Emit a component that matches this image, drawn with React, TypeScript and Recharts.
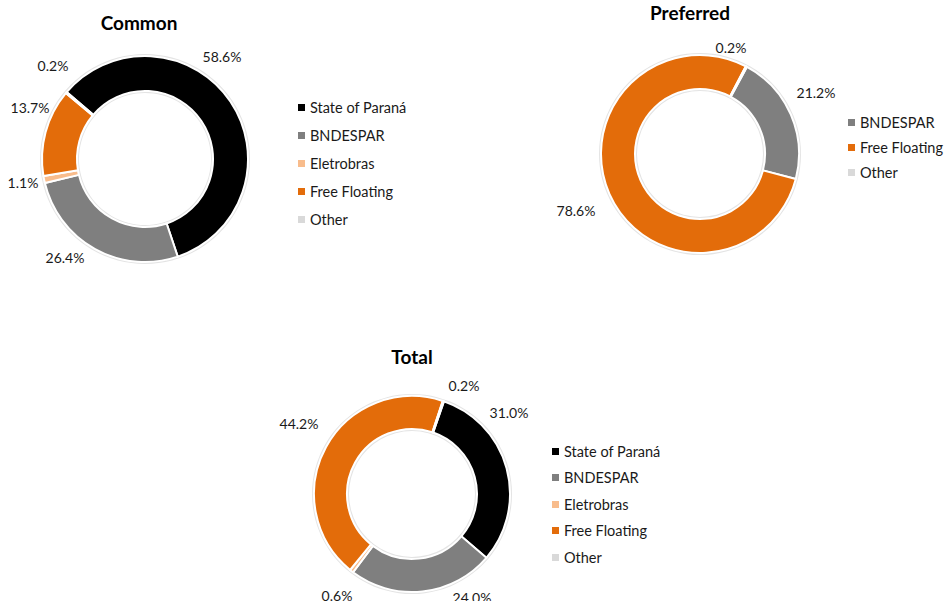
import React from 'react';
import { PieChart, Pie, Cell, Legend } from 'recharts';

const COMMON_CATEGORIES = ['State of Paraná', 'BNDESPAR', 'Eletrobras', 'Free Floating', 'Other'];
const COMMON_VALUES = [58.6, 26.4, 1.1, 13.7, 0.2];

const PREFERRED_CATEGORIES = ['BNDESPAR', 'Free Floating', 'Other'];
const PREFERRED_VALUES = [21.2, 78.6, 0.2];

const TOTAL_CATEGORIES = ['State of Paraná', 'BNDESPAR', 'Eletrobras', 'Free Floating', 'Other'];
const TOTAL_VALUES = [31.0, 24.0, 0.6, 44.2, 0.2];

const CHART_TITLES = ['Common', 'Preferred', 'Total'];

const COLORS: Record<string, string> = {
  'State of Paraná': '#000000',
  BNDESPAR: '#7f7f7f',
  Eletrobras: '#f8bc8c',
  'Free Floating': '#e36c0a',
  Other: '#d9d9d9',
};

const FONT = 'Lato, "Liberation Sans", sans-serif';
const TEXT_COLOR = '#1a1a1a';

type Layout = {
  box: { left: number; top: number; width: number; height: number };
  cx: number;
  cy: number;
  inner: number;
  outer: number;
  startAngle: number;
  labelOffsets: [number, number][];
  legend: { left: number; top: number; gap: number };
  title: { x: number; y: number };
};

const LAYOUTS: Layout[] = [
  {
    box: { left: 0, top: 0, width: 470, height: 300 },
    cx: 145,
    cy: 159,
    inner: 68,
    outer: 103,
    startAngle: 139.5,
    labelOffsets: [[77, -103], [-80, 98], [-122, 23], [-115, -52], [-92, -94]],
    legend: { left: 298, top: 93, gap: 28 },
    title: { x: 139, y: 23 },
  },
  {
    box: { left: 520, top: 0, width: 428, height: 290 },
    cx: 180,
    cy: 154,
    inner: 65,
    outer: 99,
    startAngle: 61.7,
    labelOffsets: [[116, -62], [-124, 56], [31, -107]],
    legend: { left: 328, top: 110, gap: 25 },
    title: { x: 690, y: 13 },
  },
  {
    box: { left: 250, top: 330, width: 450, height: 271 },
    cx: 162,
    cy: 164,
    inner: 65,
    outer: 98,
    startAngle: 71,
    labelOffsets: [[97, -82], [60, 103], [-75, 101], [-113, -71], [52, -109]],
    legend: { left: 302, top: 108, gap: 26.5 },
    title: { x: 412, y: 357 },
  },
];

const makeLegend = (gap: number, categories: string[]) => (props: any) => {
  const payload = (props.payload || [])
    .filter((e: any) => categories.indexOf(e.value) >= 0)
    .sort((a: any, b: any) => categories.indexOf(a.value) - categories.indexOf(b.value));
  return (
    <div>
      {payload.map((e: any, i: number) => (
        <div
          key={i}
          style={{
            display: 'flex',
            alignItems: 'center',
            height: gap,
            fontFamily: FONT,
            fontSize: 14.5,
            color: TEXT_COLOR,
            whiteSpace: 'nowrap',
          }}
        >
          <span style={{ display: 'inline-block', width: 7, height: 7, background: COLORS[e.value], marginRight: 5 }} />
          <span>{e.value}</span>
        </div>
      ))}
    </div>
  );
};

function Donut({ title, categories, values, layout }: { title: string; categories: string[]; values: number[]; layout: Layout }) {
  const data = categories.map((c, i) => ({ name: c, value: values[i] }));
  const ring = [{ name: 'ring', value: 1 }];
  const renderLabel = (p: any) => {
    const off = layout.labelOffsets[p.index];
    return (
      <text
        x={p.cx + off[0]}
        y={p.cy + off[1]}
        textAnchor="middle"
        dominantBaseline="central"
        fontFamily={FONT}
        fontSize={14}
        fill={TEXT_COLOR}
      >
        {values[p.index].toFixed(1) + '%'}
      </text>
    );
  };
  return (
    <>
      <div
        style={{
          position: 'absolute',
          left: layout.title.x - 100,
          top: layout.title.y - 12,
          width: 200,
          height: 24,
          lineHeight: '24px',
          textAlign: 'center',
          fontFamily: FONT,
          fontWeight: 700,
          fontSize: 19,
          color: '#000',
        }}
      >
        {title}
      </div>
      <div style={{ position: 'absolute', left: layout.box.left, top: layout.box.top }}>
        <PieChart width={layout.box.width} height={layout.box.height} margin={{ top: 0, right: 0, bottom: 0, left: 0 }}>
          <Pie
            data={ring}
            dataKey="value"
            cx={layout.cx}
            cy={layout.cy}
            innerRadius={layout.inner - 2}
            outerRadius={layout.outer + 2}
            fill="#e4e4e4"
            stroke="none"
            isAnimationActive={false}
            legendType="none"
          />
          <Pie
            data={data}
            dataKey="value"
            nameKey="name"
            cx={layout.cx}
            cy={layout.cy}
            innerRadius={layout.inner}
            outerRadius={layout.outer}
            startAngle={layout.startAngle}
            endAngle={layout.startAngle - 360}
            stroke="#ffffff"
            strokeWidth={2}
            label={renderLabel}
            labelLine={false}
            isAnimationActive={false}
            legendType="square"
          >
            {data.map((d, i) => (
              <Cell key={i} fill={COLORS[d.name]} />
            ))}
          </Pie>
          <Legend
            layout="vertical"
            align="right"
            verticalAlign="top"
            content={makeLegend(layout.legend.gap, categories)}
            wrapperStyle={{ left: layout.legend.left, top: layout.legend.top, width: 'auto', right: 'auto' }}
          />
        </PieChart>
      </div>
    </>
  );
}

export default function App() {
  return (
    <div style={{ position: 'absolute', left: 0, top: 0, width: 948, height: 601, background: '#ffffff', overflow: 'hidden' }}>
      <Donut title={CHART_TITLES[0]} categories={COMMON_CATEGORIES} values={COMMON_VALUES} layout={LAYOUTS[0]} />
      <Donut title={CHART_TITLES[1]} categories={PREFERRED_CATEGORIES} values={PREFERRED_VALUES} layout={LAYOUTS[1]} />
      <Donut title={CHART_TITLES[2]} categories={TOTAL_CATEGORIES} values={TOTAL_VALUES} layout={LAYOUTS[2]} />
    </div>
  );
}
